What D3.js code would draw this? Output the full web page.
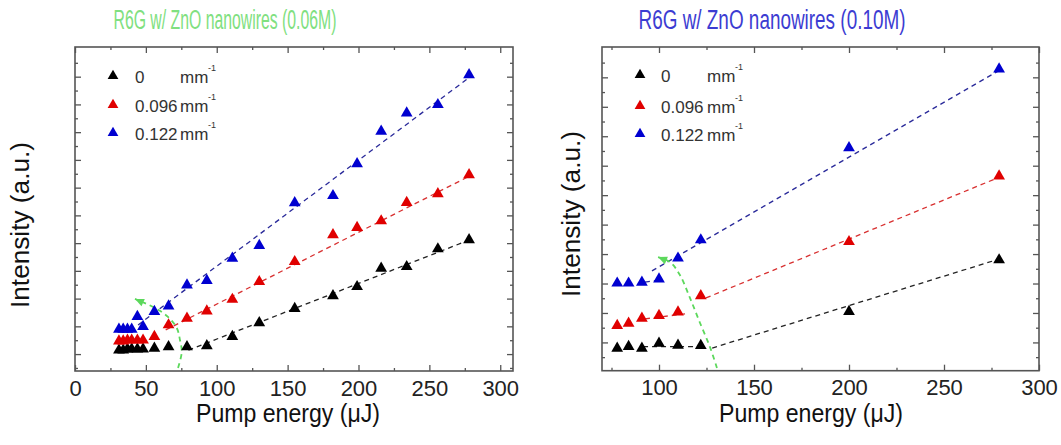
<!DOCTYPE html>
<html>
<head>
<meta charset="utf-8">
<script src="https://cdn.jsdelivr.net/npm/d3@7"></script>
<style>
  body { margin: 0; background: #fff; }
  text { font-family: "Liberation Sans Narrow", "Arial Narrow", "Liberation Sans", sans-serif; }
</style>
</head>
<body>
<svg width="1061" height="445"></svg>
<script>
// left panel (0.06M)
let leftX = [31, 34, 37, 40, 44, 48, 56, 66, 79, 93, 111, 130, 155, 182, 199, 216, 234, 256, 278]
let leftBlack = [0.14, 0.14, 0.18, 0.18, 0.18, 0.18, 0.21, 0.26, 0.26, 0.30, 0.63, 1.13, 1.64, 2.10, 2.43, 3.09, 3.15, 3.79, 4.12]
let leftRed = [0.47, 0.47, 0.50, 0.50, 0.50, 0.50, 0.63, 1.05, 1.29, 1.55, 1.97, 2.61, 3.33, 4.30, 4.56, 4.80, 5.46, 5.78, 6.46]
let leftBlue = [0.89, 0.89, 0.89, 0.89, 1.35, 0.99, 1.53, 1.73, 2.49, 2.65, 3.45, 3.91, 5.45, 5.71, 6.86, 8.03, 8.69, 8.99, 10.07]
// fit lines: [[x0, y0], [x1, y1]]
let leftFitBlack = [[80, 0.14], [280, 4.15]]
let leftFitRed = [[64, 0.87], [280, 6.46]]
let leftFitBlue = [[44.5, 1.05], [280, 10.04]]
let leftArrow = [[72.7, -0.5], [75.3, 0.07], [74.1, 0.5], [71.8, 0.94], [65.6, 1.34], [56.5, 1.66], [42.3, 1.99]]

// right panel (0.10M)
let rightX = [78, 84, 91, 100, 110, 122, 200, 279]
let rightBlack = [-0.20, -0.14, -0.20, -0.03, -0.10, -0.11, 1.05, 2.80]
let rightRed = [0.57, 0.65, 0.82, 0.91, 1.03, 1.58, 3.42, 5.65]
let rightBlue = [2.01, 2.01, 2.04, 2.15, 2.86, 3.48, 6.61, 9.28]
let rightFitBlack = [[128, -0.19], [279.5, 2.84]]
let rightFitRed = [[124.7, 1.51], [279.5, 5.62]]
let rightFitBlue = [[96.3, 2.43], [279.5, 9.25]]
let rightSubBlack = [[91.6, -0.14], [123.7, -0.14]]
let rightSubRed = [[92.6, 0.80], [113.7, 0.97]]
let rightSubBlue = [[92.6, 2.05], [100.5, 2.12]]
let rightArrow = [[130.5, -0.87], [126.8, -0.15], [121.6, 0.66], [116.3, 1.51], [111, 2.29], [105.8, 2.73], [99.5, 2.9]]

let legendLabels = ["0", "0.096", "0.122"]
let markerColors = ["#000000", "#e00000", "#0000d0"]
let lineColors = ["#222222", "#d83030", "#2a2a9a"]
let xTicks = [0, 50, 100, 150, 200, 250, 300]

let svg = d3.select("svg")

let panels = [
  {
    title: "R6G w/ ZnO nanowires (0.06M)", titleColor: "#80e080", titleX: 225, titleW: 223,
    xd: [0, 309], xr: [75, 513], yd: [-0.61, 11.07], yr: [371, 47],
    xs: leftX, series: [leftBlack, leftRed, leftBlue],
    fits: [leftFitBlack, leftFitRed, leftFitBlue], subs: [],
    arrow: leftArrow,
    leg: {tx: 113, lx: 135, mx: 180, sx: 208, rows: [77, 106, 134]},
    ylabX: 29, ylabY: 225, xlabX: 288
  },
  {
    title: "R6G w/ ZnO nanowires (0.10M)", titleColor: "#3c3cd2", titleX: 772, titleW: 267,
    xd: [70, 300], xr: [602, 1039], yd: [-0.96, 10.03], yr: [370.7, 47],
    xs: rightX, series: [rightBlack, rightRed, rightBlue],
    fits: [rightFitBlack, rightFitRed, rightFitBlue], subs: [rightSubBlack, rightSubRed, rightSubBlue],
    arrow: rightArrow,
    leg: {tx: 640, lx: 661, mx: 707, sx: 735, rows: [76, 107, 135]},
    ylabX: 580, ylabY: 214, xlabX: 811
  }
]

panels.forEach((p) => {
  let x = d3.scaleLinear().domain(p.xd).range(p.xr)
  let y = d3.scaleLinear().domain(p.yd).range(p.yr)
  let g = svg.append("g")

  // title
  svg.append("text")
    .attr("x", p.titleX).attr("y", 29)
    .attr("text-anchor", "middle")
    .attr("font-size", "27px")
    .attr("fill", p.titleColor)
    .attr("textLength", p.titleW).attr("lengthAdjust", "spacingAndGlyphs")
    .text(p.title)

  let ticksX = xTicks.filter((t) => t >= p.xd[0] && t <= p.xd[1])
  let minorX = d3.range(0, 301, 25).filter((t) => t % 50 != 0 && t > p.xd[0] && t < p.xd[1])
  let ticksY = d3.range(Math.ceil(p.yd[0]), Math.floor(p.yd[1]) + 1).filter((t) => y(t) > p.yr[1] + 2)
  let minorY = d3.range(Math.ceil(p.yd[0] * 2) / 2, p.yd[1], 1).map((t) => Math.floor(t) + 0.5).filter((t) => t > p.yd[0] && t < p.yd[1])

  let axes = [
    [d3.axisBottom(x).tickValues(ticksX), "translate(0," + p.yr[0] + ")", 6, true],
    [d3.axisBottom(x).tickValues(minorX), "translate(0," + p.yr[0] + ")", 3, false],
    [d3.axisTop(x).tickValues(ticksX), "translate(0," + p.yr[1] + ")", 6, false],
    [d3.axisTop(x).tickValues(minorX), "translate(0," + p.yr[1] + ")", 3, false],
    [d3.axisLeft(y).tickValues(ticksY), "translate(" + p.xr[0] + ",0)", 6, false],
    [d3.axisLeft(y).tickValues(minorY), "translate(" + p.xr[0] + ",0)", 3, false],
    [d3.axisRight(y).tickValues(ticksY), "translate(" + p.xr[1] + ",0)", 6, false],
    [d3.axisRight(y).tickValues(minorY), "translate(" + p.xr[1] + ",0)", 3, false]
  ]
  axes.forEach((a) => {
    let ax = g.append("g")
      .attr("transform", a[1])
      .call(a[0].tickSize(-a[2]).tickPadding(9).tickFormat(a[3] ? d3.format("d") : ""))
    ax.select(".domain").remove()
    ax.selectAll("line").attr("stroke", "#555").attr("stroke-width", 1.3)
    ax.selectAll("text").attr("font-size", "22px").attr("fill", "#222")
      .attr("font-family", "'Liberation Sans Narrow', 'Arial Narrow', sans-serif")
  })

  g.append("rect")
    .attr("x", p.xr[0]).attr("y", p.yr[1])
    .attr("width", p.xr[1] - p.xr[0]).attr("height", p.yr[0] - p.yr[1])
    .attr("fill", "none").attr("stroke", "#555").attr("stroke-width", 1.6)

  // axis labels
  svg.append("text")
    .attr("x", p.xlabX).attr("y", 422)
    .attr("text-anchor", "middle")
    .attr("font-size", "25px").attr("fill", "#111")
    .attr("font-family", "'Liberation Sans', Arial, sans-serif")
    .attr("textLength", 184).attr("lengthAdjust", "spacingAndGlyphs")
    .text("Pump energy (\u03bcJ)")

  svg.append("text")
    .attr("transform", "translate(" + p.ylabX + "," + p.ylabY + ") rotate(-90)")
    .attr("text-anchor", "middle")
    .attr("font-size", "26px").attr("fill", "#111")
    .attr("font-family", "'Liberation Sans', Arial, sans-serif")
    .attr("textLength", 166).attr("lengthAdjust", "spacingAndGlyphs")
    .text("Intensity (a.u.)")

  let line = d3.line().x((d) => x(d[0])).y((d) => y(d[1]))

  // fitted dashed lines
  p.fits.concat(p.subs).forEach((f, i) => {
    g.append("path")
      .attr("d", line(f))
      .attr("fill", "none")
      .attr("stroke", lineColors[i % 3])
      .attr("stroke-width", 1.3)
      .attr("stroke-dasharray", "5,4")
  })

  // green arrow
  g.append("path")
    .attr("d", d3.line().curve(d3.curveCatmullRom).x((d) => x(d[0])).y((d) => y(d[1]))(p.arrow))
    .attr("fill", "none")
    .attr("stroke", "#5cd85c")
    .attr("stroke-width", 1.8)
    .attr("stroke-dasharray", "5,4")
  let a0 = p.arrow[p.arrow.length - 2], a1 = p.arrow[p.arrow.length - 1]
  let ang = Math.atan2(y(a1[1]) - y(a0[1]), x(a1[0]) - x(a0[0])) * 180 / Math.PI
  g.append("path")
    .attr("d", "M0,0 L-9,-4 L-9,4 Z")
    .attr("transform", "translate(" + x(a1[0]) + "," + y(a1[1]) + ") rotate(" + ang + ")")
    .attr("fill", "#5cd85c")

  // markers
  let tri = d3.symbol().type(d3.symbolTriangle).size(60)
  p.series.forEach((s, i) => {
    g.selectAll(".m" + i)
      .data(s.map((v, j) => [p.xs[j], v]))
      .enter().append("path")
      .attr("d", tri)
      .attr("transform", (d) => "translate(" + x(d[0]) + "," + y(d[1]) + ")")
      .attr("fill", markerColors[i])
  })

  // legend
  legendLabels.forEach((lab, i) => {
    let ry = p.leg.rows[i]
    g.append("path").attr("d", d3.symbol().type(d3.symbolTriangle).size(50))
      .attr("transform", "translate(" + p.leg.tx + "," + (ry - 1) + ")")
      .attr("fill", markerColors[i])
    g.append("text").attr("x", p.leg.lx).attr("y", ry + 6)
      .attr("font-size", "17px").attr("fill", "#333").text(lab)
    g.append("text").attr("x", p.leg.mx).attr("y", ry + 6)
      .attr("font-size", "17px").attr("fill", "#333").text("mm")
    g.append("text").attr("x", p.leg.sx).attr("y", ry - 6)
      .attr("font-size", "9px").attr("fill", "#333").text("-1")
  })
})
</script>
</body>
</html>
